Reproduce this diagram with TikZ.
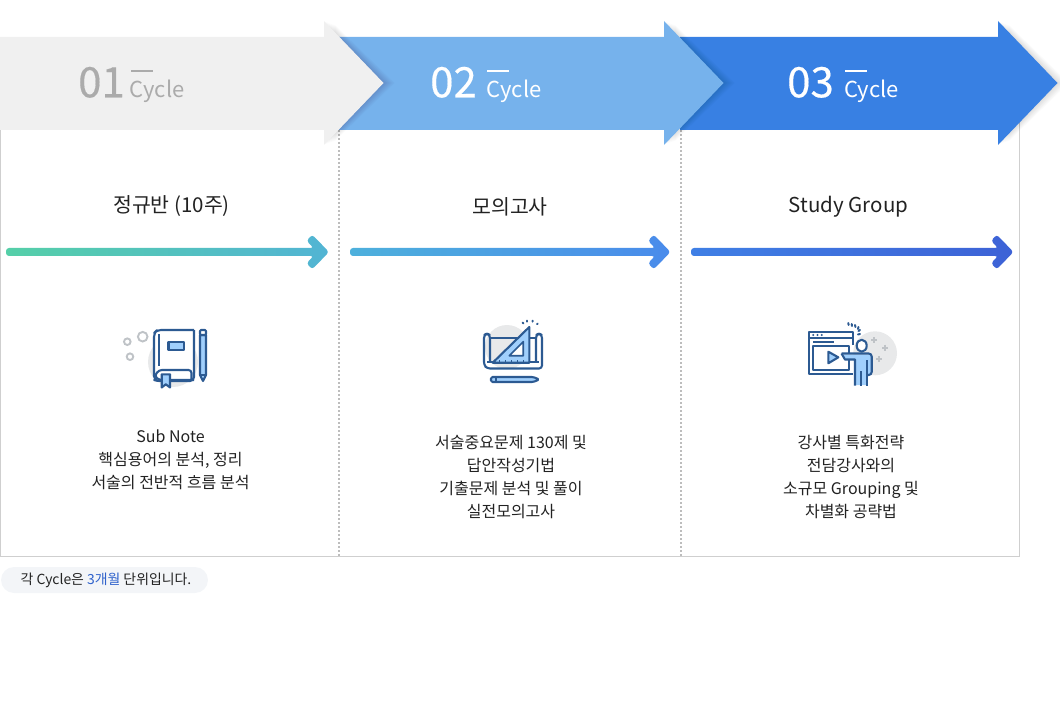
\documentclass[tikz,border=0pt]{standalone}
\usepackage{fontspec}
\setmainfont{Noto Sans CJK KR}

\definecolor{boxline}{HTML}{CFCFCF}
\definecolor{dotline}{HTML}{BDBDBD}
\definecolor{cycleA}{HTML}{F0F0F0}
\definecolor{cycleB}{HTML}{76B2EC}
\definecolor{cycleC}{HTML}{3880E3}
\definecolor{cycleText}{HTML}{ABABAB}
\definecolor{iconLine}{HTML}{2C5A92}
\definecolor{iconFill}{HTML}{A0CFFC}
\definecolor{iconBack}{HTML}{E8E9EA}
\definecolor{iconDot}{HTML}{BFC3C7}
\definecolor{noteBack}{HTML}{F3F5F8}
\definecolor{noteBlue}{HTML}{2F62CC}
\definecolor{gradA}{HTML}{55CFA8}
\definecolor{gradB}{HTML}{52B4D4}
\definecolor{gradC}{HTML}{4DB0DC}
\definecolor{gradD}{HTML}{4A8BEB}
\definecolor{gradE}{HTML}{3F7FE5}
\definecolor{gradF}{HTML}{3D62D6}
\definecolor{bodyText}{HTML}{222222}

\tikzset{
  numlabel/.style={anchor=base west, inner sep=0pt, font=\fontsize{42}{42}\selectfont\addfontfeature{FakeBold=0.4}},
  cyclelabel/.style={anchor=base west, inner sep=0pt, font=\fontsize{22}{22}\selectfont},
  titlelabel/.style={inner sep=0pt, text=bodyText, font=\fontsize{20.5}{24}\selectfont},
  bodylabel/.style={inner sep=0pt, align=center, text=bodyText, font=\fontsize{16}{23}\selectfont},
  iconline/.style={draw=iconLine, line width=2.1pt, line join=round},
  iconsolid/.style={iconline, fill=iconFill},
  iconopen/.style={iconline, fill=white},
  icondot/.style={draw=iconDot, line width=1.9pt},
  iconplus/.style={draw=iconDot, line width=1.8pt},
  iconray/.style={draw=iconLine, line width=2pt, line cap=round},
  dotrule/.style={dotline, line width=2pt, dash pattern=on 2pt off 2pt}
}

\begin{document}
\begin{tikzpicture}[x=1pt, y=-1pt]

\useasboundingbox (0,0) rectangle (1060,719);

% panel
\draw[boxline, line width=1pt] (0.5,130) -- (0.5,556.5) -- (1019.5,556.5) -- (1019.5,120);
\draw[dotrule] (339,130) -- (339,556);
\draw[dotrule] (681,130) -- (681,556);

% big arrows, last one first
\foreach \hx/\bx/\col in {998/680/cycleC, 664/339/cycleB, 324/-1/cycleA} {
  \foreach \s in {1,...,16}
    \fill[black, opacity=0.009] (\hx+\s*0.7,21+\s*0.25) -- (\hx+60+\s*0.7,83) -- (\hx+\s*0.7,145-\s*0.25) -- cycle;
  \fill[\col] (\bx,37) -- (\hx,37) -- (\hx,21) -- (\hx+59.5,83) -- (\hx,145) -- (\hx,130) -- (\bx,130) -- cycle;
}

\node[numlabel, text=cycleText] (numA) at (78,97.3) {01};
\node[cyclelabel, text=cycleText] (cycA) at (129.5,97.3) {Cycle};
\draw[cycleText, line width=1.8pt] (131,71) -- (153,71);

\node[numlabel, text=white] (numB) at (430,97.3) {02};
\node[cyclelabel, text=white] (cycB) at (486.5,97.3) {Cycle};
\draw[white, line width=1.8pt] (487,71) -- (509,71);

\node[numlabel, text=white] (numC) at (787,97.3) {03};
\node[cyclelabel, text=white] (cycC) at (844,97.3) {Cycle};
\draw[white, line width=1.8pt] (845,71) -- (867,71);

% titles
\node[titlelabel] (titleA) at (171.5,206.5) {정규반 (10주)};
\node[titlelabel] (titleB) at (510,206.5) {모의고사};
\node[titlelabel] (titleC) at (848.5,206.5) {Study Group};

% thin arrows
\foreach \xa/\xb/\ca/\cb in {6/329/gradA/gradB, 350/670.5/gradC/gradD, 691/1013.5/gradE/gradF}
  \shade[left color=\ca, right color=\cb, rounded corners=3pt]
    (\xa,248) -- (\xb-15.32,248) -- (\xb-22.49,240.83) -- (\xb-16.83,234.6) -- (\xb,252)
    -- (\xb-16.83,269.4) -- (\xb-22.49,263.17) -- (\xb-15.32,256) -- (\xa,256) -- cycle;

% book icon
\fill[iconBack] (173,362) circle (25);
\draw[icondot] (127.3,341.7) circle (3.3);
\draw[icondot] (142.7,336.7) circle (4.8);
\draw[icondot] (130,356.7) circle (3.3);
\draw[iconline, fill=white, rounded corners=4pt] (194,330) -- (157,330) -- (154,333) -- (154,380) -- (158,381) -- (194,381) -- (194,330);
\fill[white] (160,370) rectangle (191,378);
\draw[iconline, rounded corners=3pt] (194,380) -- (159,380) -- (154.5,376) -- (159,370) -- (191.5,370) -- (191.5,379);
\draw[iconline] (159.3,334) -- (159.3,366);
\draw[iconsolid] (168.5,341.7) rectangle (184,350);
\draw[iconsolid] (161.7,374.3) -- (170,374.3) -- (170,387.5) -- (165.8,384.3) -- (161.7,387.5) -- cycle;
\draw[iconsolid] (200,335) -- (206,335) -- (206,375) -- (203,381) -- (200,375) -- cycle;
\draw[iconopen, rounded corners=1pt] (200,335) -- (200,330) -- (206,330) -- (206,335) -- cycle;
\draw[iconline] (200,375) -- (206,375);

% ruler icon
\fill[iconBack] (507,347) circle (22);
\draw[iconline, rounded corners=3pt] (490,361.5) -- (490,335) -- (487,333.5) -- (484,335) -- (484,365) -- (487,368.5) -- (542,368.5) -- (542,335) -- (539,333.5) -- (536,335) -- (536,361.5);
\draw[iconline] (490,338.3) -- (536,338.3);
\draw[iconline] (487,361.7) -- (539,361.7);
\draw[iconsolid] (529.3,327) -- (529.3,362.7) -- (492.7,362.7) -- cycle;
\draw[iconline, fill=white, line width=1.7pt] (523.3,341.7) -- (523.3,355.7) -- (509.3,355.7) -- cycle;
\foreach \tx in {499,505,511,517,523}
  \draw[iconLine, line width=1pt] (\tx,362) -- (\tx,359.5);
\draw[iconray] (522.7,322.7) -- (523.4,323.4);
\draw[iconray] (527.3,320.7) -- (527.3,321.6);
\draw[iconray] (532.7,320.7) -- (532.5,321.6);
\draw[iconray] (537.7,323.5) -- (537,324.2);
\draw[iconsolid, rounded corners=1.5pt] (491,377) -- (533.3,377) -- (539.3,379.5) -- (533.3,382) -- (491,382) -- cycle;
\draw[iconline, line width=1.5pt] (496,377) -- (496,382);

% video icon
\fill[iconBack] (875,353.3) circle (22);
\foreach \px/\py in {874/340, 885/347.7, 879/359} {
  \draw[iconplus] (\px-3,\py) -- (\px+3,\py);
  \draw[iconplus] (\px,\py-3) -- (\px,\py+3);
}
\draw[iconline, fill=white] (853.3,345) -- (853.3,331.7) -- (809.3,331.7) -- (809.3,374.3) -- (853.3,374.3);
\draw[iconline] (809.3,337.7) -- (853.3,337.7);
\foreach \dx in {813.3,817.5,821.7}
  \fill[iconLine] (\dx,335) circle (1.1);
\draw[iconline] (813.3,341.7) -- (834,341.7);
\draw[iconline] (849.3,353) -- (849.3,345.7) -- (813.3,345.7) -- (813.3,370.3) -- (849.3,370.3) -- (849.3,360);
\draw[iconsolid] (828.3,351.7) -- (828.3,363.3) -- (838.3,357.3) -- cycle;
\draw[iconline, fill=white] (861.7,345.7) ellipse (5 and 6);
\fill[iconFill] (843,354.5) -- (870.8,354.5) -- (870.8,374) -- (866,374) -- (866,385) -- (856,385) -- (856,359.5) -- (846,359) -- cycle;
\draw[iconline, rounded corners=3pt] (841.5,353.5) -- (871.7,353.5) -- (871.7,375) -- (866.7,375);
\draw[iconline] (841.5,353.5) -- (845,359.5) -- (855,359.5) -- (855,385.5);
\draw[iconline] (866.7,360) -- (866.7,385.5);
\draw[iconline] (860.7,371) -- (860.7,385.5);
\draw[iconray] (848.3,323) -- (848.6,325);
\draw[iconray] (851.7,324) -- (852,326);
\draw[iconray] (855,325) -- (855.5,327);
\draw[iconray] (858.5,327) -- (858,329);
\draw[iconray] (860,330) -- (858.5,331);
\draw[iconray] (860,334) -- (858,334.5);

% texts
\node[bodylabel] (bodyA) at (170.5,459.5) {Sub Note\\핵심용어의 분석, 정리\\서술의 전반적 흐름 분석};
\node[bodylabel] (bodyB) at (511,477) {서술중요문제 130제 및\\답안작성기법\\기출문제 분석 및 풀이\\실전모의고사};
\node[bodylabel] (bodyC) at (851,477) {강사별 특화전략\\전담강사와의\\소규모 Grouping 및\\차별화 공략법};

% note
\fill[noteBack, rounded corners=13pt] (1,567) rectangle (208,593);
\node[inner sep=0pt, text=bodyText, font=\fontsize{13.9}{15}\selectfont] (note) at (106,580.5) {각 Cycle은 \textcolor{noteBlue}{3개월} 단위입니다.};

\end{tikzpicture}
\end{document}
